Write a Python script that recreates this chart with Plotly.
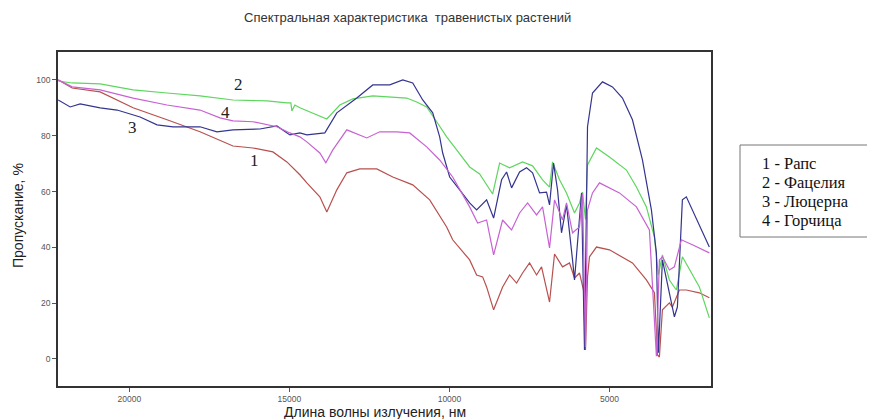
import plotly.graph_objects as go

# Wavelength axis values and transmittance (%) for each plant
rapeseed_x = [22224, 21788, 20914, 19884, 18824, 17794, 16764, 16140, 15516, 15080, 14674, 14456, 14050, 13832,
              13520, 13208, 12802, 12272, 11772, 11148, 10618, 10088, 9900, 9370, 9152, 8964, 8840, 8621, 8340,
              8122, 7904, 7716, 7498, 7280, 7124, 6874, 6718, 6468, 6250, 6094, 5938, 5813, 5751, 5688, 5626,
              5408, 5002, 4472, 4284, 3848, 3598, 3536, 3504, 3442, 3348, 3130, 3036, 2818, 2600, 2194, 1882]
rapeseed_y = [100.0, 97.1, 95.7, 90.0, 85.7, 81.4, 76.3, 75.6, 74.2, 70.6, 66.0, 63.1, 58.1, 52.7,
              60.6, 66.7, 68.1, 68.1, 65.2, 62.4, 57.0, 47.3, 42.7, 35.5, 30.1, 29.4, 25.8, 17.6, 25.8,
              30.1, 27.2, 30.8, 34.4, 30.1, 33.0, 20.4, 37.6, 33.0, 34.4, 29.0, 30.8, 24.7, 3.2, 29.4, 36.6,
              40.1, 39.1, 35.5, 34.4, 28.3, 23.7, 10.0, 1.4, 0.7, 17.6, 20.1, 18.6, 24.7, 24.7, 23.7, 21.9]

phacelia_x = [22224, 21788, 20914, 19884, 18824, 17794, 16764, 15704, 15080, 14955, 14924, 14830, 14674, 14268,
              13832, 13426, 13020, 12396, 11866, 11336, 11024, 10712, 10400, 10088, 9776, 9370, 9058, 8652, 8434,
              8122, 7716, 7404, 7092, 6874, 6780, 6562, 6344, 6094, 5938, 5844, 5751, 5688, 5408, 5002, 4472,
              4160, 3848, 3598, 3473, 3348, 3130, 2912, 2724, 2194, 1882]
phacelia_y = [99.6, 98.9, 98.6, 96.4, 95.3, 94.3, 92.8, 92.5, 91.8, 91.8, 88.9, 91.0, 90.0, 88.2,
              86.0, 91.0, 93.2, 94.3, 93.9, 93.5, 92.1, 90.3, 85.0, 79.6, 74.9, 68.8, 66.3, 59.1, 70.2,
              68.5, 70.6, 69.2, 64.2, 61.6, 70.6, 64.2, 59.5, 52.3, 55.9, 59.8, 50.0, 69.5, 75.6, 72.4, 67.7,
              61.6, 54.5, 43.7, 30.1, 37.3, 28.3, 24.7, 36.6, 25.8, 14.7]

alfalfa_x = [22224, 21850, 21538, 20914, 20384, 19666, 19136, 18636, 17794, 17264, 16764, 15922, 15392, 14986,
             14674, 14456, 13894, 13520, 12896, 12396, 11866, 11460, 11148, 10836, 10524, 10306, 10212, 9994,
             9682, 9370, 9152, 8840, 8621, 8372, 8216, 8060, 7810, 7592, 7404, 7186, 6968, 6874, 6749, 6624,
             6500, 6344, 6156, 6094, 5874, 5782, 5688, 5532, 5220, 4908, 4596, 4284, 3972, 3692, 3536, 3473,
             3348, 3130, 2974, 2880, 2724, 2600, 2412, 2100, 1882]
alfalfa_y = [92.8, 90.3, 91.4, 90.0, 89.2, 86.7, 83.9, 83.2, 83.2, 81.4, 82.1, 82.4, 83.5, 80.3,
             81.0, 80.3, 81.0, 88.2, 93.5, 98.2, 98.2, 100.0, 98.9, 92.8, 88.2, 79.6, 73.8, 65.2,
             60.6, 55.9, 53.4, 57.0, 50.5, 64.2, 67.0, 61.3, 67.0, 68.5, 66.7, 59.5, 59.8, 55.2, 70.2, 60.6,
             45.2, 55.2, 35.5, 28.3, 59.5, 3.2, 83.2, 95.3, 99.3, 97.5, 93.5, 85.7, 71.3, 53.4, 38.0, 2.2,
             35.5, 23.7, 15.1, 18.6, 57.0, 58.1, 53.4, 45.2, 40.1]

mustard_x = [22224, 21788, 20914, 19884, 18824, 17794, 17170, 16764, 16140, 15392, 14986, 14674, 14456, 14050,
             13863, 13644, 13208, 12584, 12178, 11648, 11242, 10712, 10306, 9900, 9370, 9120, 8840, 8621, 8340,
             8060, 7810, 7560, 7280, 7092, 6874, 6718, 6468, 6344, 6156, 5938, 5844, 5751, 5688, 5532, 5314,
             4690, 4160, 3754, 3536, 3442, 3348, 3130, 2974, 2756, 2412, 1882]
mustard_y = [100.0, 97.5, 96.4, 93.5, 91.0, 89.2, 86.4, 85.3, 85.0, 83.2, 81.0, 79.6, 77.8, 73.8,
             70.3, 74.9, 82.1, 79.2, 81.4, 81.4, 81.0, 76.0, 71.3, 65.2, 54.5, 48.7, 49.8, 37.3, 49.8,
             46.2, 52.3, 55.9, 51.6, 54.5, 39.8, 57.0, 49.8, 55.9, 45.2, 47.3, 59.5, 4.3, 53.4, 59.5, 63.1,
             59.5, 54.5, 46.2, 1.0, 35.5, 36.6, 31.9, 33.0, 42.7, 40.9, 38.0]

x_ticks = [20000, 15000, 10000, 5000]
y_ticks = [0, 20, 40, 60, 80, 100]

curve_labels = ["1", "2", "3", "4"]
curve_label_x = [16100, 16600, 19915, 17010]
curve_label_y = [71.0, 98.2, 82.8, 88.2]

legend_lines = ["1 - Рапс", "2 - Фацелия", "3 - Люцерна", "4 - Горчица"]

title_text = "Спектральная характеристика  травенистых растений"
x_title = "Длина волны излучения, нм"
y_title = "Пропускание, %"

series = [
    (rapeseed_x, rapeseed_y, "#b8504e"),
    (phacelia_x, phacelia_y, "#5ed65e"),
    (alfalfa_x, alfalfa_y, "#34348f"),
    (mustard_x, mustard_y, "#c862d2"),
]

fig = go.Figure()
for xs, ys, col in series:
    fig.add_trace(go.Scatter(x=xs, y=ys, mode="lines", line=dict(color=col, width=1.2), showlegend=False))

# The page body adds an 8px offset; compensate so positions match the reference window.
OFF = 8
W, H = 875 - OFF, 419 - OFF
L, R, T, B = 58 - OFF, 711 - OFF, 52 - OFF, 386 - OFF
pw, ph = R - L, B - T

fig.update_layout(
    width=W, height=H,
    margin=dict(l=L, r=W - R, t=T, b=H - B),
    paper_bgcolor="white", plot_bgcolor="white",
    showlegend=False,
    font=dict(family="Liberation Sans, Arial", color="#333"),
)
fig.update_xaxes(range=[22230, 1830], tickvals=x_ticks, ticktext=[str(v) for v in x_ticks],
                 showgrid=False, zeroline=False, showline=True, mirror=True,
                 linecolor="#333", linewidth=1.5, ticks="outside", ticklen=4, tickcolor="#555",
                 tickfont=dict(size=8.5, color="#555"))
fig.update_yaxes(range=[-9.7, 110], tickvals=y_ticks, showgrid=False, zeroline=False, showline=True,
                 mirror=True, linecolor="#333", linewidth=1.5, ticks="outside", ticklen=4,
                 tickcolor="#555", tickfont=dict(size=8.5, color="#555"))

def px_x(p):
    return (p - OFF - L) / pw

def px_y(p):
    return (B - (p - OFF)) / ph

fig.add_annotation(text=title_text, xref="paper", yref="paper", x=px_x(407), y=px_y(18),
                   showarrow=False, font=dict(size=13, color="#333"), xanchor="center", yanchor="middle")
fig.add_annotation(text=x_title, xref="paper", yref="paper", x=px_x(375), y=px_y(412),
                   showarrow=False, font=dict(size=14, color="#222"), xanchor="center", yanchor="middle")
fig.add_annotation(text=y_title, xref="paper", yref="paper", x=px_x(18), y=px_y(216),
                   showarrow=False, textangle=-90, font=dict(size=14, color="#222"),
                   xanchor="center", yanchor="middle")

for t, xv, yv in zip(curve_labels, curve_label_x, curve_label_y):
    fig.add_annotation(text=t, x=xv, y=yv, showarrow=False,
                       font=dict(family="Liberation Serif, Times New Roman", size=17, color="#222"))

fig.add_shape(type="rect", xref="paper", yref="paper", x0=px_x(740), x1=px_x(873), y0=px_y(237), y1=px_y(145),
              line=dict(color="#777", width=1), fillcolor="white")
for i, t in enumerate(legend_lines):
    fig.add_annotation(text=t, xref="paper", yref="paper", x=px_x(760), y=px_y(163 + 19 * i),
                       showarrow=False, xanchor="left", yanchor="middle",
                       font=dict(family="Liberation Serif, Times New Roman", size=16.5, color="#111"))

fig.write_html("out.html")
